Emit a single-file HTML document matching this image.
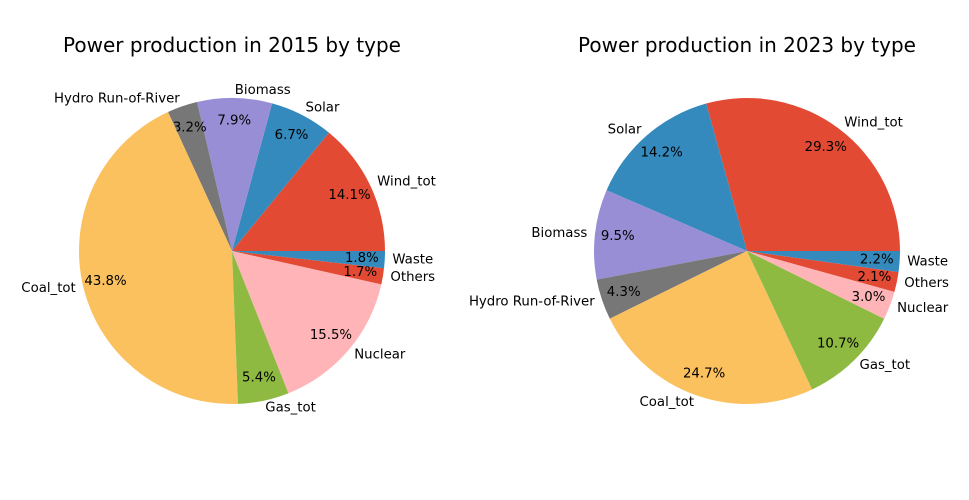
<!DOCTYPE html>
<html><head><meta charset="utf-8"><style>
body{margin:0;background:#fff;}
svg{display:block;font-family:"DejaVu Sans","Liberation Sans",sans-serif;}
</style></head><body>
<svg id="chart" width="969" height="500" viewBox="0 0 969 500">
<rect width="969" height="500" fill="#fff"/>
</svg>
<script>
const categories = ["Wind_tot","Solar","Biomass","Hydro Run-of-River","Coal_tot","Gas_tot","Nuclear","Others","Waste"];
const values2015 = [14.1,6.7,7.9,3.2,43.8,5.4,15.5,1.7,1.8];
const values2023 = [29.3,14.2,9.5,4.3,24.7,10.7,3.0,2.1,2.2];
const titles = ["Power production in 2015 by type","Power production in 2023 by type"];
const colors = ["#E24A33","#348ABD","#988ED5","#777777","#FBC15E","#8EBA42","#FFB5B8","#E24A33","#348ABD"];
const NS="http://www.w3.org/2000/svg";
const svg=document.getElementById('chart');
function mk(tag,attrs,parent){const e=document.createElementNS(NS,tag);for(const k in attrs)e.setAttribute(k,attrs[k]);parent.appendChild(e);return e;}
function drawPie(vals,cx,cy,r,title,idx){
  const g=mk('g',{},svg);
  
  
  const t=mk('text',{x:cx,y:45,'text-anchor':'middle','dominant-baseline':'central','font-size':20,fill:'#000'},g);
  t.textContent=title;
  
  
  const total=vals.reduce((a,b)=>a+b,0);
  let a0=0;
  vals.forEach((v,i)=>{
    const a1=a0+v/total*2*Math.PI;
    const x0=cx+r*Math.cos(a0),y0=cy-r*Math.sin(a0);
    const x1=cx+r*Math.cos(a1),y1=cy-r*Math.sin(a1);
    const large=(a1-a0)>Math.PI?1:0;
    const p=mk('path',{d:`M${cx},${cy} L${x0},${y0} A${r},${r} 0 ${large} 0 ${x1},${y1} Z`,fill:colors[i]},g);
    
    
    const am=(a0+a1)/2, c=Math.cos(am), s=Math.sin(am);
    const pt=mk('text',{x:cx+0.85*r*c,y:cy-0.85*r*s,'text-anchor':'middle','dominant-baseline':'central','font-size':13.3,fill:'#000'},g);
    pt.textContent=v.toFixed(1)+'%';
    
    
    const lt=mk('text',{x:cx+1.05*r*c,y:cy-1.05*r*s,'text-anchor':c>0?'start':'end','dominant-baseline':'central','font-size':13.3,fill:'#000'},g);
    lt.textContent=categories[i];
    
    
    a0=a1;
  });
}
drawPie(values2015,232,251,153,titles[0],0);
drawPie(values2023,747,251,153,titles[1],1);
</script>
</body></html>
